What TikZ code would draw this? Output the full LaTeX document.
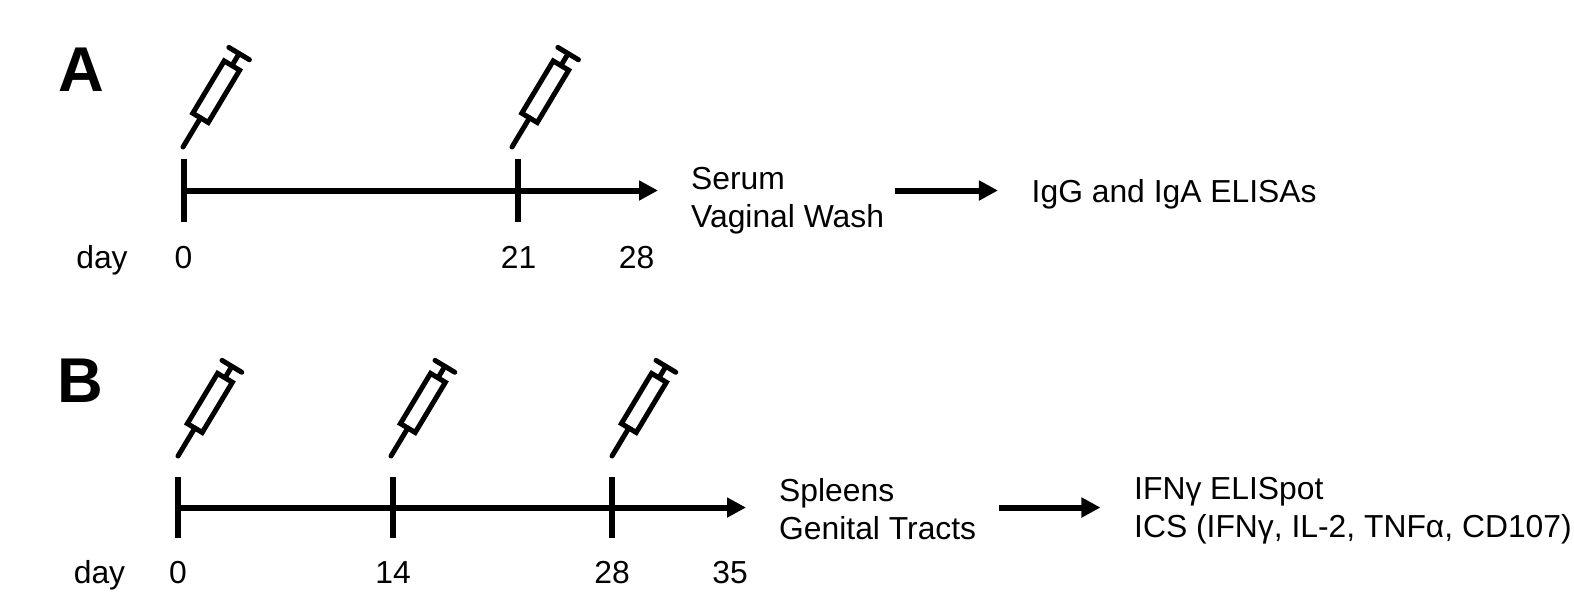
\documentclass[tikz,border=0pt]{standalone}
\usepackage{fontspec}
\setmainfont{Liberation Sans}
\usetikzlibrary{arrows.meta}
\tikzset{
  timeline/.style={line width=.06cm,-{Triangle[length=.19cm,width=.19cm]}},
  tickmark/.style={line width=.06cm},
  syringeline/.style={line width=.05cm,line join=miter},
  dayfont/.style={font=\fontsize{9.05}{10.8}\selectfont},
  panelfont/.style={font=\fontsize{18}{20}\selectfont\bfseries},
  pics/syringe/.style={code={
    \draw[syringeline,line cap=round] (0,0)--(34,0);
    \draw[syringeline] (34,-9) rectangle (95,9);
    \draw[syringeline] (95,0)--(109,0);
    \draw[syringeline,line cap=round] (109,-12)--(109,12);
  }}
}
\begin{document}
\begin{tikzpicture}[x=.01cm,y=-.01cm,dayfont]
\useasboundingbox (0,0) rectangle (1574,596);
\node[panelfont] (panelA) at (81.5,70) {A};
\node[panelfont] (panelB) at (80.5,381) {B};
\coordinate (startA) at (183.5,190.5);
\coordinate (endA) at (658,190.5);
\coordinate (startB) at (178,507.5);
\coordinate (endB) at (746,507.5);
\foreach \x/\t in {183.5/183,518/512}{
\draw[tickmark] (\x,159)--(\x,222);
\pic[rotate=59] at (\t,147) {syringe};
}
\foreach \x/\t in {178/178,393/391,612/612}{
\draw[tickmark] (\x,477)--(\x,538);
\pic[rotate=59,scale=.96] at (\t,456) {syringe};
}
\draw[timeline] (startA)--(endA);
\draw[timeline] (startB)--(endB);
\foreach \x/\d in {183.5/0,518.5/21,636.5/28}{
\node[anchor=base] (dayA\d) at (\x,268) {\d};
}
\foreach \x/\d in {178/0,393/14,612/28,730/35}{
\node[anchor=base] (dayB\d) at (\x,583) {\d};
}
\node[anchor=base] (labelA) at (102,268) {day};
\node[anchor=base] (labelB) at (99.5,583) {day};
\node[anchor=west,align=left,inner sep=0pt] (samplesA) at (690.5,200.5) {Serum\\Vaginal Wash};
\node[anchor=west,inner sep=0pt] (assayA) at (1031,194) {IgG and IgA ELISAs};
\node[anchor=west,align=left,inner sep=0pt] (samplesB) at (778.5,509.5) {Spleens\\Genital Tracts};
\node[anchor=west,align=left,inner sep=0pt] (assayB) at (1133.5,511) {IFNγ ELISpot\\ICS (IFNγ, IL-2, TNFα, CD107)};
\draw[timeline,shorten <=.1cm,shorten >=.33cm] (samplesA.east |- startA)--(assayA.west |- startA);
\draw[timeline,shorten <=.22cm,shorten >=.33cm] (samplesB.east |- startB)--(assayB.west |- startB);
\end{tikzpicture}
\end{document}
